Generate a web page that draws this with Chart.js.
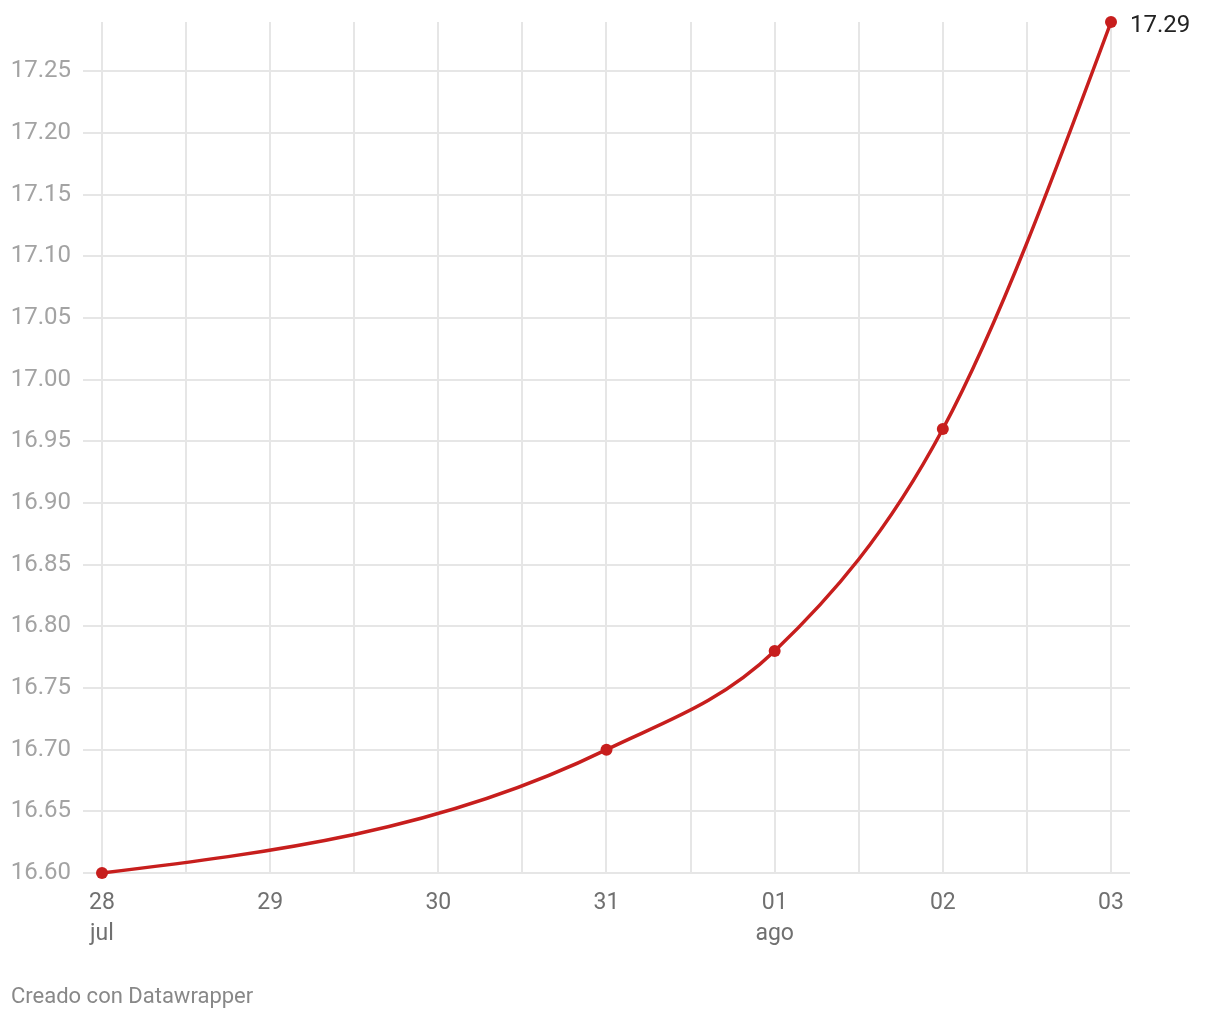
<!DOCTYPE html>
<html>
<head>
<meta charset="utf-8">
<script src="https://cdn.jsdelivr.net/npm/chart.js@4"></script>
<style>
  body { margin: 0; background: #fff; font-family: Roboto, sans-serif; }
  #wrap { position: relative; width: 1220px; height: 1020px; }
  #footer { position: absolute; left: 11px; top: 983px; font-size: 22px; color: #888; }
</style>
</head>
<body>
<div id="wrap">
  <canvas id="chart" width="1220" height="1020"></canvas>
  <div id="footer">Creado con Datawrapper</div>
</div>
<script>
// --- Data ---
const dayLabels = ["28", "29", "30", "31", "01", "02", "03"];
const monthLabels = ["jul", "", "", "", "ago", "", ""];
const pointDays = [0, 3, 4, 5, 6]; // index into dayLabels
const rates = [16.60, 16.70, 16.78, 16.96, 17.29];
const yMin = 16.60, yMax = 17.29, yStep = 0.05;

const red = "#c71e1d";
const gridColor = "#e6e6e6";

// Datawrapper curves use d3's monotoneX tangents, slightly different
// from Chart.js' monotone ones, so redo the control points here
const monotoneX = {
  id: "monotoneX",
  beforeDatasetsDraw(chart) {
    const meta = chart.getDatasetMeta(0);
    const pts = meta.data;
    const n = pts.length;
    if (n < 3) return;
    const h = [], s = [], m = [];
    for (let i = 0; i < n - 1; i++) {
      h[i] = pts[i + 1].x - pts[i].x;
      s[i] = (pts[i + 1].y - pts[i].y) / h[i];
    }
    for (let i = 1; i < n - 1; i++) {
      const p = (s[i - 1] * h[i] + s[i] * h[i - 1]) / (h[i - 1] + h[i]);
      m[i] = (Math.sign(s[i - 1]) + Math.sign(s[i])) *
        Math.min(Math.abs(s[i - 1]), Math.abs(s[i]), 0.5 * Math.abs(p)) || 0;
    }
    m[0] = (3 * s[0] - m[1]) / 2;
    m[n - 1] = (3 * s[n - 2] - m[n - 2]) / 2;
    for (let i = 0; i < n - 1; i++) {
      const dx = h[i] / 3;
      pts[i].cp2x = pts[i].x + dx;
      pts[i].cp2y = pts[i].y + dx * m[i];
      pts[i + 1].cp1x = pts[i + 1].x - dx;
      pts[i + 1].cp1y = pts[i + 1].y - dx * m[i + 1];
    }
    meta.dataset._pointsUpdated = true;
  }
};

// label for the last value
const endLabel = {
  id: "endLabel",
  afterDatasetsDraw(chart) {
    const meta = chart.getDatasetMeta(0);
    const last = meta.data[meta.data.length - 1];
    const ctx = chart.ctx;
    ctx.save();
    ctx.font = "24px Roboto";
    ctx.fillStyle = "#222";
    ctx.textAlign = "left";
    ctx.textBaseline = "middle";
    ctx.fillText(rates[rates.length - 1].toFixed(2), last.x + 19, last.y + 4);
    ctx.restore();
  }
};

new Chart(document.getElementById("chart"), {
  type: "line",
  data: {
    datasets: [{
      data: pointDays.map((d, i) => ({ x: d, y: rates[i] })),
      borderColor: red,
      backgroundColor: red,
      borderWidth: 3.5,
      pointRadius: 6,
      pointBackgroundColor: red,
      pointBorderWidth: 0,
      cubicInterpolationMode: "monotone",
      clip: false
    }]
  },
  options: {
    responsive: false,
    animation: false,
    layout: { padding: { top: 22, right: 90, bottom: 0, left: 0 } },
    plugins: { legend: { display: false }, tooltip: { enabled: false } },
    scales: {
      x: {
        type: "linear",
        min: 0,
        max: 6.113,
        // a gridline every half day, labels on whole days
        afterBuildTicks: s => {
          s.ticks = [];
          for (let i = 0; i <= (dayLabels.length - 1) * 2; i++) s.ticks.push({ value: i / 2 });
        },
        afterFit: s => { s.height = 147; },
        border: { display: false },
        grid: { color: gridColor, lineWidth: 2, drawTicks: false },
        ticks: {
          autoSkip: false,
          maxRotation: 0,
          padding: 15,
          color: "#707070",
          font: { family: "Roboto", size: 23, lineHeight: 1.35 },
          callback: v => {
            if (!Number.isInteger(v)) return "";
            return monthLabels[v] ? [dayLabels[v], monthLabels[v]] : dayLabels[v];
          }
        }
      },
      y: {
        min: yMin,
        max: yMax,
        afterBuildTicks: s => { s.ticks = s.ticks.filter(t => Math.abs(t.value / yStep - Math.round(t.value / yStep)) < 1e-6); },
        afterFit: s => { s.width = 102; s.paddingTop = 0; s.paddingBottom = 0; },
        border: { display: false },
        grid: { color: gridColor, lineWidth: 2, drawTicks: true, tickLength: 19 },
        ticks: {
          stepSize: yStep,
          padding: 12,
          color: "#a3a3a3",
          font: { family: "Roboto", size: 24 },
          callback: v => v.toFixed(2)
        }
      }
    }
  },
  plugins: [monotoneX, endLabel]
});
</script>
</body>
</html>
